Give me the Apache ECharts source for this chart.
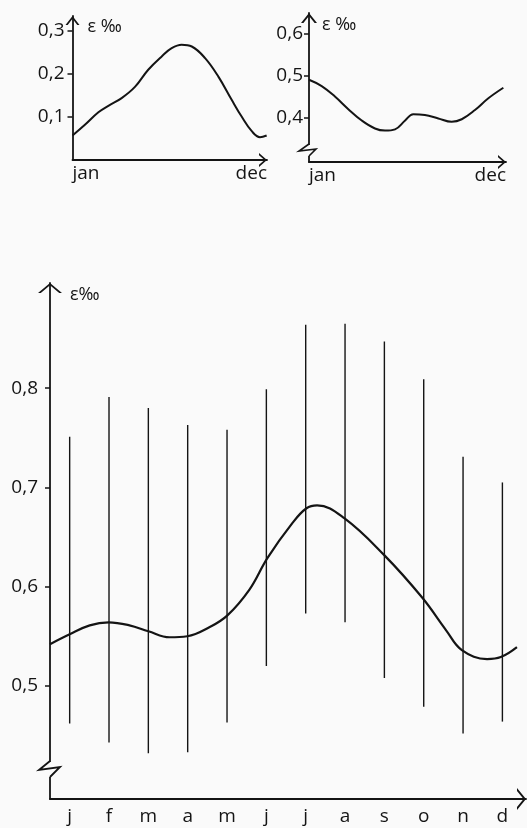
<!DOCTYPE html>
<html lang="fr">
<head>
<meta charset="UTF-8">
<title>ε‰</title>
<style>
  html, body { margin: 0; padding: 0; background: #fafafa; }
  #chart { width: 527px; height: 828px; }
</style>
</head>
<body>
<div id="chart"></div>
<script src="https://cdn.jsdelivr.net/npm/echarts@6/dist/echarts.min.js"></script>
<script>
// top left panel: [month, ε‰]
var curveA = [[1.0,0.057],[1.71,0.082],[2.48,0.111],[3.05,0.126],[3.81,0.144],[4.57,0.170],
  [5.33,0.210],[6.10,0.241],[6.67,0.260],[7.24,0.268],[7.82,0.264],[8.58,0.237],
  [9.34,0.194],[10.10,0.140],[10.67,0.101],[11.25,0.067],[11.72,0.053],[12.10,0.057]];
var ticksA = [0.1, 0.2, 0.3];
var tickLabelsA = ['0,1', '0,2', '0,3'];

// top right panel
var curveB = [[1.0,0.491],[1.72,0.476],[2.47,0.451],[3.23,0.421],[3.99,0.394],[4.74,0.375],
  [5.31,0.370],[5.88,0.373],[6.45,0.394],[6.91,0.409],[7.57,0.407],[8.33,0.399],
  [9.09,0.391],[9.66,0.397],[10.41,0.419],[11.17,0.447],[12.02,0.472]];
var ticksB = [0.4, 0.5, 0.6];
var tickLabelsB = ['0,4', '0,5', '0,6'];

// bottom panel: monthly curve and min/max ranges
var months = ['j', 'f', 'm', 'a', 'm', 'j', 'j', 'a', 's', 'o', 'n', 'd'];
var curveC = [[0.5,0.542],[1.0,0.552],[1.51,0.561],[1.99,0.564],[2.52,0.561],[3.0,0.555],
  [3.54,0.549],[3.99,0.550],[4.55,0.559],[5.01,0.571],[5.57,0.597],[6.03,0.629],
  [6.66,0.664],[7.02,0.679],[7.29,0.682],[7.98,0.669],[8.99,0.632],[9.96,0.589],
  [10.57,0.556],[10.97,0.536],[11.61,0.527],[11.96,0.529],[12.37,0.539]];
var rangeHigh = [0.751, 0.791, 0.780, 0.763, 0.758, 0.799, 0.864, 0.865, 0.847, 0.809, 0.731, 0.705];
var rangeLow  = [0.462, 0.443, 0.432, 0.433, 0.463, 0.520, 0.573, 0.564, 0.508, 0.479, 0.452, 0.464];
var ticksC = [0.5, 0.6, 0.7, 0.8];
var tickLabelsC = ['0,5', '0,6', '0,7', '0,8'];

var ink = '#141414';
var paper = '#fafafa';
var font = 'Open Sans';

// open arrow head (pointing up, echarts turns it along the axis)
function chevron(w, h, t) {
  var a = t * 2 * h / w;
  return 'path://M0,' + h + ' L' + (w / 2) + ',0 L' + w + ',' + h + ' L' + (w - t) + ',' + h +
    ' L' + (w / 2) + ',' + a + ' L' + t + ',' + h + ' Z';
}

function axisLine(w, h, t) {
  return {
    show: true,
    onZero: false,
    lineStyle: { color: ink, width: 1.8 },
    symbol: ['none', chevron(w, h, t)],
    symbolSize: [w, h],
    symbolOffset: [0, -h / 2]
  };
}

function yAxis(grid, min, max, ticks, labels, arrow, name, gap, pad, margin) {
  return {
    gridIndex: grid, type: 'value', min: min, max: max,
    axisLine: axisLine(arrow[0], arrow[1], arrow[2]),
    splitLine: { show: false },
    axisTick: { show: true, customValues: ticks, length: 5, lineStyle: { color: ink, width: 1.5 } },
    axisLabel: {
      customValues: ticks, color: ink, fontFamily: font, fontSize: 19, margin: margin,
      formatter: function (v) { return labels[ticks.indexOf(v)]; }
    },
    name: name, nameLocation: 'end', nameGap: gap,
    nameTextStyle: { color: ink, fontFamily: font, fontSize: 18, align: 'left',
      verticalAlign: 'middle', padding: [0, 0, 0, pad] }
  };
}

function xAxisEnds(grid, min, max, arrow) {
  return {
    gridIndex: grid, type: 'value', min: min, max: max,
    axisLine: axisLine(arrow[0], arrow[1], arrow[2]),
    splitLine: { show: false },
    axisTick: { show: false },
    axisLabel: {
      customValues: [min, max], color: ink, fontFamily: font, fontSize: 19, margin: 4,
      alignMinLabel: 'left', alignMaxLabel: 'right',
      formatter: function (v) { return v === min ? 'jan' : 'dec'; }
    }
  };
}

var ranges = rangeHigh.map(function (hi, i) { return [i + 1, rangeLow[i], hi]; });

var chart = echarts.init(document.getElementById('chart'));
chart.setOption({
  backgroundColor: paper,
  animation: false,
  grid: [
    { left: 72.5, top: 16, width: 194.5, height: 144, outerBoundsMode: 'none' },
    { left: 309, top: 13, width: 197, height: 149, outerBoundsMode: 'none' },
    { left: 50, top: 283, width: 476, height: 516, outerBoundsMode: 'none' }
  ],
  xAxis: [
    xAxisEnds(0, 1, 12.12, [14, 8, 2.2]),
    xAxisEnds(1, 1, 12.17, [14, 8, 2.2]),
    {
      gridIndex: 2, type: 'value', min: 0.5, max: 12.6,
      axisLine: axisLine(22, 9, 3),
      splitLine: { show: false },
      axisTick: { show: false },
      axisLabel: {
        customValues: months.map(function (m, i) { return i + 1; }),
        color: ink, fontFamily: font, fontSize: 19, margin: 8,
        formatter: function (v) { return months[v - 1]; }
      }
    }
  ],
  yAxis: [
    yAxis(0, 0, 0.335, ticksA, tickLabelsA, [14, 9, 2.2], 'ε ‰', -11, 15, 8),
    yAxis(1, 0.2952, 0.65, ticksB, tickLabelsB, [16, 10, 2.4], 'ε ‰', -12, 13, 6),
    yAxis(2, 0.386, 0.906, ticksC, tickLabelsC, [24, 10, 2.8], 'ε‰', -12, 20, 12)
  ],
  series: [
    { type: 'line', xAxisIndex: 0, yAxisIndex: 0, data: curveA, smooth: 0.4, showSymbol: false,
      lineStyle: { color: ink, width: 2 } },
    { type: 'line', xAxisIndex: 1, yAxisIndex: 1, data: curveB, smooth: 0.4, showSymbol: false,
      lineStyle: { color: ink, width: 2 } },
    { type: 'line', xAxisIndex: 2, yAxisIndex: 2, data: curveC, smooth: 0.4, showSymbol: false,
      lineStyle: { color: ink, width: 2.2 }, z: 3 },
    {
      type: 'custom', xAxisIndex: 2, yAxisIndex: 2, data: ranges, z: 2,
      renderItem: function (params, api) {
        var x = api.value(0);
        var lo = api.coord([x, api.value(1)]);
        var hi = api.coord([x, api.value(2)]);
        return { type: 'line', shape: { x1: lo[0], y1: lo[1], x2: hi[0], y2: hi[1] },
          style: { stroke: ink, lineWidth: 1.4 } };
      }
    }
  ],
  // axis breaks
  graphic: [
    { type: 'rect', z: 100, shape: { x: 45, y: 762, width: 10, height: 15 }, style: { fill: paper } },
    { type: 'polyline', z: 101, shape: { points: [[50, 761], [39, 770], [60, 767], [50, 777]] },
      style: { stroke: ink, lineWidth: 1.8, fill: null } },
    { type: 'rect', z: 100, shape: { x: 305, y: 145, width: 8, height: 11 }, style: { fill: paper } },
    { type: 'polyline', z: 101, shape: { points: [[309, 144], [299, 151], [316, 149], [309, 156]] },
      style: { stroke: ink, lineWidth: 1.6, fill: null } }
  ]
});
</script>
</body>
</html>
